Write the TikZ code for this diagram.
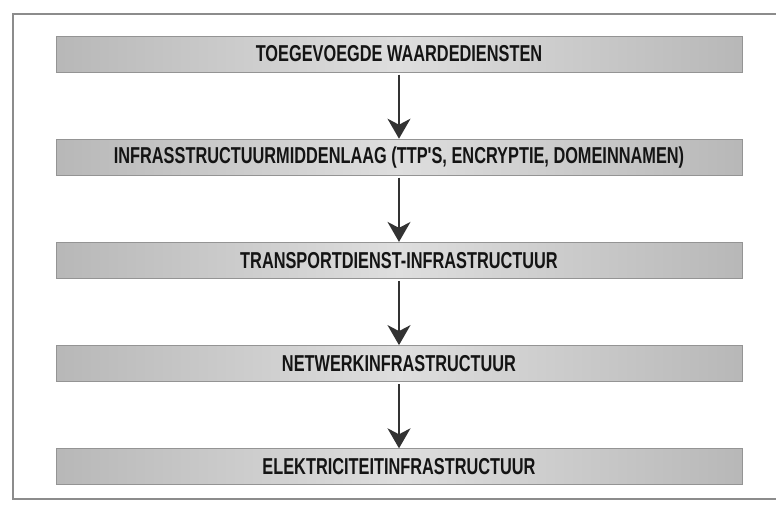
\documentclass[tikz,border=0pt]{standalone}
\usepackage{fontspec}
\usepackage{tikz}
\usetikzlibrary{arrows.meta,positioning}
\newfontfamily\layerfont[FakeStretch=0.71]{Liberation Sans}
\tikzset{
  >={Stealth[length=20pt, width=23pt, inset=6pt]},
  layer/.style = {draw=black!42, line width=1pt, left color=black!28, right color=black!28, middle color=black!13,
                  minimum width=686pt, minimum height=36pt,
                  inner sep=0pt, font=\layerfont\bfseries\fontsize{23}{25}\selectfont, text=black!92},
  flow/.style  = {->, line width=1.8pt, draw=black!80},
  frame/.style = {draw=black!45, line width=1.4pt}
}
\begin{document}
\begin{tikzpicture}[x=1pt, y=-1pt]
  \useasboundingbox (0,0) rectangle (776,504);
  % outer frame, open on the right like the scan
  \draw[frame] (776,14) -- (13,14) -- (13,499) -- (776,499);

  %  --  the five layers, top to bottom
  \foreach \i/\txt in {1/TOEGEVOEGDE WAARDEDIENSTEN,
                       2/{INFRASSTRUCTUURMIDDENLAAG (TTP'S, ENCRYPTIE, DOMEINNAMEN)},
                       3/TRANSPORTDIENST-INFRASTRUCTUUR,
                       4/NETWERKINFRASTRUCTUUR,
                       5/ELEKTRICITEITINFRASTRUCTUUR}{
    \node[layer] (L\i) at (399,{54+103.2*(\i-1)}) {\txt};
  }

  %  --  arrows down from each layer to the next
  \foreach \a/\b in {1/2,2/3,3/4,4/5}{
    \draw[flow] ([yshift=-2pt]L\a.south) -- (L\b.north);
  }
\end{tikzpicture}
\end{document}
